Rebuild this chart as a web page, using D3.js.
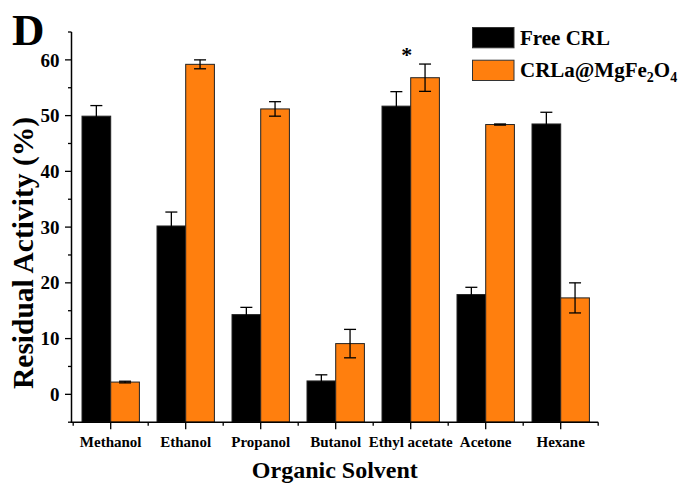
<!DOCTYPE html>
<html>
<head>
<meta charset="utf-8">
<script src="https://cdn.jsdelivr.net/npm/d3@7"></script>
<style>
  html, body { margin: 0; padding: 0; background: #fff; }
  svg { display: block; font-family: "Liberation Serif", "Times New Roman", serif; font-weight: bold; }
</style>
</head>
<body>
<svg id="chart" width="684" height="486"></svg>
<script>
// Residual activity after organic-solvent exposure
const solvents = ["Methanol", "Ethanol", "Propanol", "Butanol", "Ethyl acetate", "Acetone", "Hexane"];
const seriesNames = ["Free CRL", "CRLa@MgFe2O4"];
const freeValues = [49.9, 30.2, 14.3, 2.4, 51.7, 17.9, 48.5];
const freeErrors = [1.9, 2.5, 1.3, 1.1, 2.6, 1.3, 2.1];
const immobValues = [2.2, 59.2, 51.2, 9.1, 56.8, 48.4, 17.3];
const immobErrors = [0.15, 0.8, 1.3, 2.55, 2.45, 0.1, 2.7];
const majorTicks = [0, 10, 20, 30, 40, 50, 60];
const minorTicks = [-5, 5, 15, 25, 35, 45, 55, 65];
const colors = ["#000000", "#ff7f0e"];
const markedSolvent = "Ethyl acetate";

const svg = d3.select("#chart");
const plot = { left: 71.5, right: 598.2, top: 32, bottom: 422.2 };

const x = d3.scaleBand().domain(solvents).range([73.2, plot.right]).padding(0);
const barW = 28.7;
const xs = d3.scaleBand().domain(seriesNames).range([-barW, barW]).padding(0);
const y = d3.scaleLinear().domain([-5, 65]).range([plot.bottom, plot.top]);

const rows = solvents.map((s, i) => ({
  solvent: s,
  bars: [
    { name: seriesNames[0], value: freeValues[i], err: freeErrors[i], color: colors[0] },
    { name: seriesNames[1], value: immobValues[i], err: immobErrors[i], color: colors[1] }
  ]
}));

// bars
const groups = svg.append("g").selectAll("g").data(rows).join("g")
  .attr("transform", d => `translate(${x(d.solvent) + x.bandwidth() / 2},0)`);

groups.selectAll("rect").data(d => d.bars).join("rect")
  .attr("x", d => xs(d.name))
  .attr("width", xs.bandwidth())
  .attr("y", d => y(d.value))
  .attr("height", d => plot.bottom - y(d.value))
  .attr("fill", d => d.color)
  .attr("stroke", "#222")
  .attr("stroke-width", 1);

// error bars
const cap = 6;
const eb = groups.selectAll("g.err").data(d => d.bars).join("g").attr("class", "err")
  .attr("transform", d => `translate(${xs(d.name) + xs.bandwidth() / 2},0)`)
  .attr("stroke", "#000").attr("stroke-width", 1.3);
eb.append("line").attr("x1", 0).attr("x2", 0)
  .attr("y1", d => y(d.value - d.err)).attr("y2", d => y(d.value + d.err));
eb.append("line").attr("x1", -cap).attr("x2", cap)
  .attr("y1", d => y(d.value + d.err)).attr("y2", d => y(d.value + d.err));
eb.append("line").attr("x1", -cap).attr("x2", cap)
  .attr("y1", d => y(d.value - d.err)).attr("y2", d => y(d.value - d.err));

// significance marker
const mi = solvents.indexOf(markedSolvent);
svg.append("text")
  .attr("x", x(markedSolvent) + x.bandwidth() / 2 - 4)
  .attr("y", y(Math.max(freeValues[mi] + freeErrors[mi], immobValues[mi] + immobErrors[mi])) - 2)
  .attr("text-anchor", "middle")
  .attr("font-size", 22)
  .text("*");

// y axis
const yAxis = svg.append("g").attr("transform", `translate(${plot.left},0)`);
yAxis.append("line").attr("x1", 0).attr("x2", 0).attr("y1", plot.top).attr("y2", plot.bottom)
  .attr("stroke", "#000").attr("stroke-width", 1.5);
yAxis.selectAll("line.major").data(majorTicks).join("line").attr("class", "major")
  .attr("x1", -6.5).attr("x2", 0).attr("y1", d => y(d)).attr("y2", d => y(d))
  .attr("stroke", "#000").attr("stroke-width", 1.3);
yAxis.selectAll("line.minor").data(minorTicks).join("line").attr("class", "minor")
  .attr("x1", -3.5).attr("x2", 0).attr("y1", d => y(d)).attr("y2", d => y(d))
  .attr("stroke", "#000").attr("stroke-width", 1.3);
yAxis.selectAll("text").data(majorTicks).join("text")
  .attr("x", -12).attr("y", d => y(d)).attr("dy", "0.35em")
  .attr("text-anchor", "end").attr("font-size", 19)
  .text(d => d);

// x axis
const xAxis = svg.append("g").attr("transform", `translate(0,${plot.bottom})`);
xAxis.append("line").attr("x1", plot.left - 0.75).attr("x2", plot.right).attr("y1", 0).attr("y2", 0)
  .attr("stroke", "#000").attr("stroke-width", 1.5);
xAxis.selectAll("line.major").data(solvents).join("line").attr("class", "major")
  .attr("x1", d => x(d) + x.bandwidth() / 2).attr("x2", d => x(d) + x.bandwidth() / 2)
  .attr("y1", 0).attr("y2", 7).attr("stroke", "#000").attr("stroke-width", 1.3);
const bounds = solvents.map(d => x(d)).concat([x.range()[1]]);
xAxis.selectAll("line.minor").data(bounds).join("line").attr("class", "minor")
  .attr("x1", d => d).attr("x2", d => d)
  .attr("y1", 0).attr("y2", 3.5).attr("stroke", "#000").attr("stroke-width", 1.3);
xAxis.selectAll("text").data(solvents).join("text")
  .attr("x", d => x(d) + x.bandwidth() / 2).attr("y", 24.5)
  .attr("text-anchor", "middle").attr("font-size", 15)
  .text(d => d);

// axis titles
svg.append("text")
  .attr("x", (plot.left + plot.right) / 2).attr("y", 478)
  .attr("text-anchor", "middle").attr("font-size", 24)
  .text("Organic Solvent");
svg.append("text")
  .attr("transform", `translate(33,253) rotate(-90)`)
  .attr("text-anchor", "middle").attr("font-size", 29.5)
  .text("Residual Activity (%)");

// panel letter
svg.append("text").attr("x", 12).attr("y", 45).attr("font-size", 45).text("D");

// legend
const legend = svg.append("g").attr("transform", "translate(472.5,27.5)");
const li = legend.selectAll("g").data(seriesNames).join("g")
  .attr("transform", (d, i) => `translate(0,${i * 32.7})`);
li.append("rect").attr("width", 41.5).attr("height", 20.3)
  .attr("fill", (d, i) => colors[i]).attr("stroke", "#333").attr("stroke-width", 1);
const lt = li.append("text").attr("x", 47.5).attr("y", 17).attr("font-size", 21);
lt.each(function (d) {
  const t = d3.select(this);
  // digits in the formula are set as subscripts
  const parts = d === seriesNames[1] ? d.split(/(\d)/).filter(p => p.length) : [d];
  let lowered = false;
  parts.forEach(p => {
    if (/^\d$/.test(p)) {
      t.append("tspan").attr("font-size", 14).attr("dy", 5).text(p);
      lowered = true;
    } else {
      t.append("tspan").attr("dy", lowered ? -5 : 0).text(p);
      lowered = false;
    }
  });
});
</script>
</body>
</html>
